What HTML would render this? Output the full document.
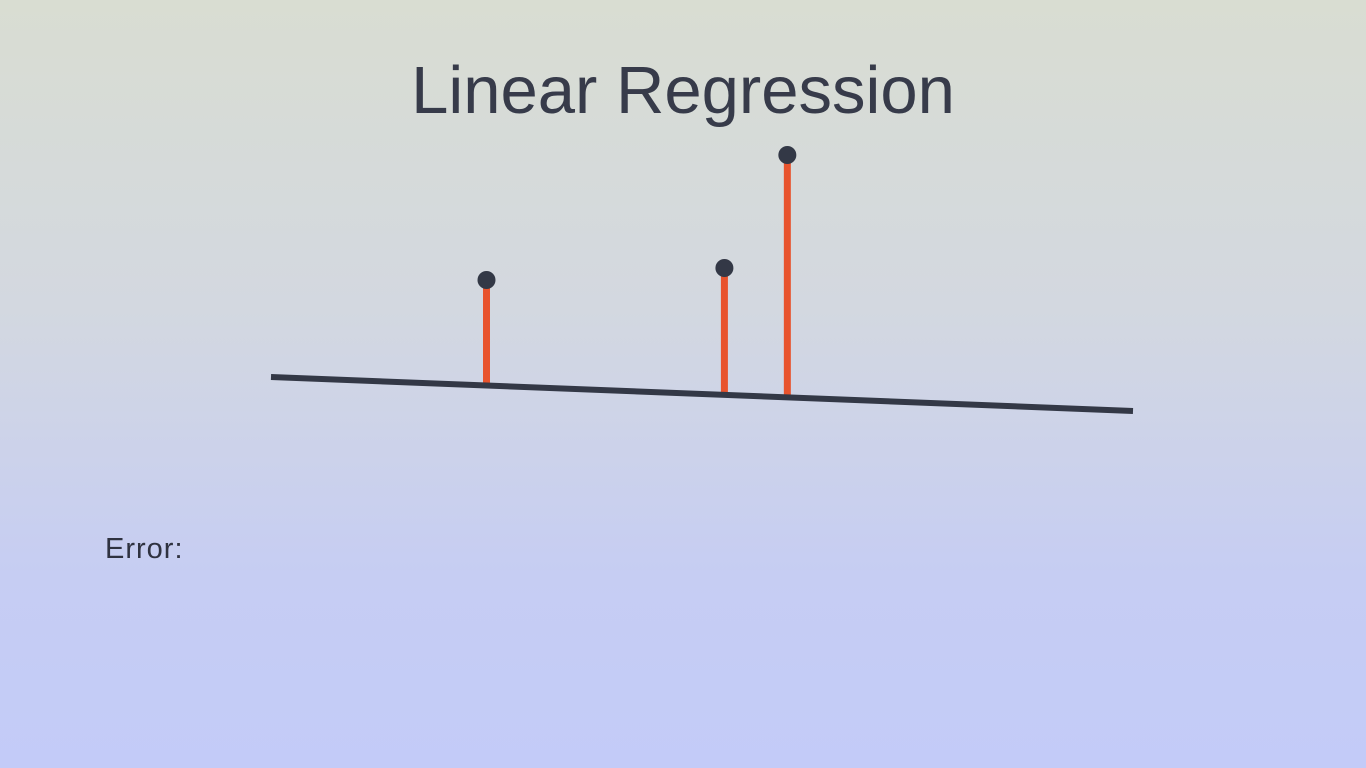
<!DOCTYPE html>
<html><head><meta charset="utf-8"><style>
html,body{margin:0;padding:0;width:1366px;height:768px;overflow:hidden}
body{background:linear-gradient(to bottom,#d9ddd2 0%,#d3d8e0 40%,#c6cdf3 75%,#c3cbf8 100%);font-family:"Liberation Sans",sans-serif}
svg{position:absolute;left:0;top:0}
</style></head><body>
<svg width="1366" height="768">
<text x="683" y="113" text-anchor="middle" font-size="67" fill="#373b4a" font-family="Liberation Sans, sans-serif">Linear Regression</text>
<text x="105" y="558" font-size="29" letter-spacing="1" fill="#2f3240" font-family="Liberation Sans, sans-serif">Error:</text>
<g id="plot"></g>
</svg>
<script>
const pointsX = [2.5, 5.26, 5.99];
const pointsY = [17.0, 18.2, 29.5];
const lineIntercept = 7.3;
const lineSlope = -0.34;
const xDomain = [0, 10];

const xs = v => 271 + v * 86.2;
const ys = v => 450 - v * 10;
const NS = "http://www.w3.org/2000/svg";
const g = document.getElementById('plot');
function mk(tag, attrs){const e=document.createElementNS(NS,tag);for(const k in attrs)e.setAttribute(k,attrs[k]);g.appendChild(e);return e;}
const fit = x => lineIntercept + lineSlope * x;

pointsX.forEach((px,i)=>{
  const r = mk('line',{x1:xs(px),y1:ys(pointsY[i]),x2:xs(px),y2:ys(fit(px)),stroke:'#e8532d','stroke-width':7});
  
  
});
const line = mk('line',{x1:xs(xDomain[0]),y1:ys(fit(xDomain[0])),x2:xs(xDomain[1]),y2:ys(fit(xDomain[1])),stroke:'#333846','stroke-width':6});


pointsX.forEach((px,i)=>{
  const c = mk('circle',{cx:xs(px),cy:ys(pointsY[i]),r:9,fill:'#333846'});
  
  
});
</script>
</body></html>
